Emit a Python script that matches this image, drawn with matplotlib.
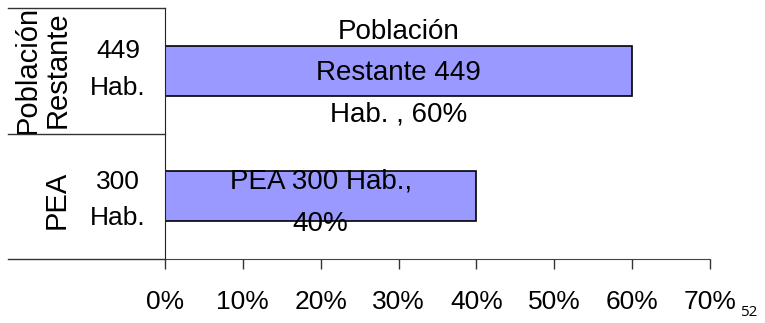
import matplotlib
matplotlib.use("Agg")
import matplotlib.pyplot as plt
from matplotlib.lines import Line2D
from matplotlib.transforms import blended_transform_factory

plt.rcParams['font.family'] = ['Liberation Sans', 'DejaVu Sans']

# data
categorias = ["PEA", "Población\nRestante"]
habitantes = [300, 449]
porcentajes = [40, 60]
etiquetas = ["PEA 300 Hab.,\n40%", "Población\nRestante 449\nHab. , 60%"]
ticks = [0, 10, 20, 30, 40, 50, 60, 70]

W, H = 765, 323
fig = plt.figure(figsize=(W / 100, H / 100), dpi=100)
ax = fig.add_axes([165 / W, 1 - 259 / H, (710 - 165) / W, (259 - 8) / H])

ypos = list(range(len(categorias)))
ax.barh(ypos, porcentajes, height=0.4, color="#9999FF", edgecolor="black", linewidth=1.2)

ax.set_xlim(0, 70)
ax.set_ylim(-0.5, 1.5)
ax.set_xticks(ticks)
ax.set_xticklabels([f"{t}%" for t in ticks], fontsize=19)
ax.tick_params(axis="x", direction="out", length=7, width=1, pad=15, color="#333333")
ax.set_yticks([])
for s in ["top", "right"]:
    ax.spines[s].set_visible(False)
ax.spines["left"].set_color("#222222")
ax.spines["bottom"].set_color("#444444")

# data labels in the middle of each bar
ax.text(porcentajes[1] / 2, ypos[1] - 0.02, etiquetas[1], ha="center", va="center",
        fontsize=20, linespacing=1.75)
ax.text(porcentajes[0] / 2, ypos[0] - 0.05, etiquetas[0], ha="center", va="center",
        fontsize=20, linespacing=1.85)

# category labels left of the axis
tr = blended_transform_factory(fig.transFigure, ax.transData)
for y, cat, hab in zip(ypos, categorias, habitantes):
    ax.text(118 / W, y + 0.01 - 0.04 * (y == 0), f"{hab}\nHab.", transform=tr,
            ha="center", va="center", fontsize=19, linespacing=1.65, clip_on=False)
    ax.text(43 / W if "\n" in cat else 57 / W, y + 0.01 * (y == 1) - 0.03 * (y == 0), cat,
            transform=tr, rotation=90, ha="center", va="center", fontsize=21,
            linespacing=1.1, clip_on=False)

# separator lines between categories
for yp in [8, 134, 259]:
    fig.add_artist(Line2D([8 / W, 165 / W], [1 - yp / H, 1 - yp / H],
                          transform=fig.transFigure, color="#333333", lw=1))

fig.text(749 / W, 1 - 313 / H, "52", ha="center", va="center", fontsize=11,
         family=["Open Sans", "DejaVu Sans"])

fig.savefig("out.png", dpi=100)
